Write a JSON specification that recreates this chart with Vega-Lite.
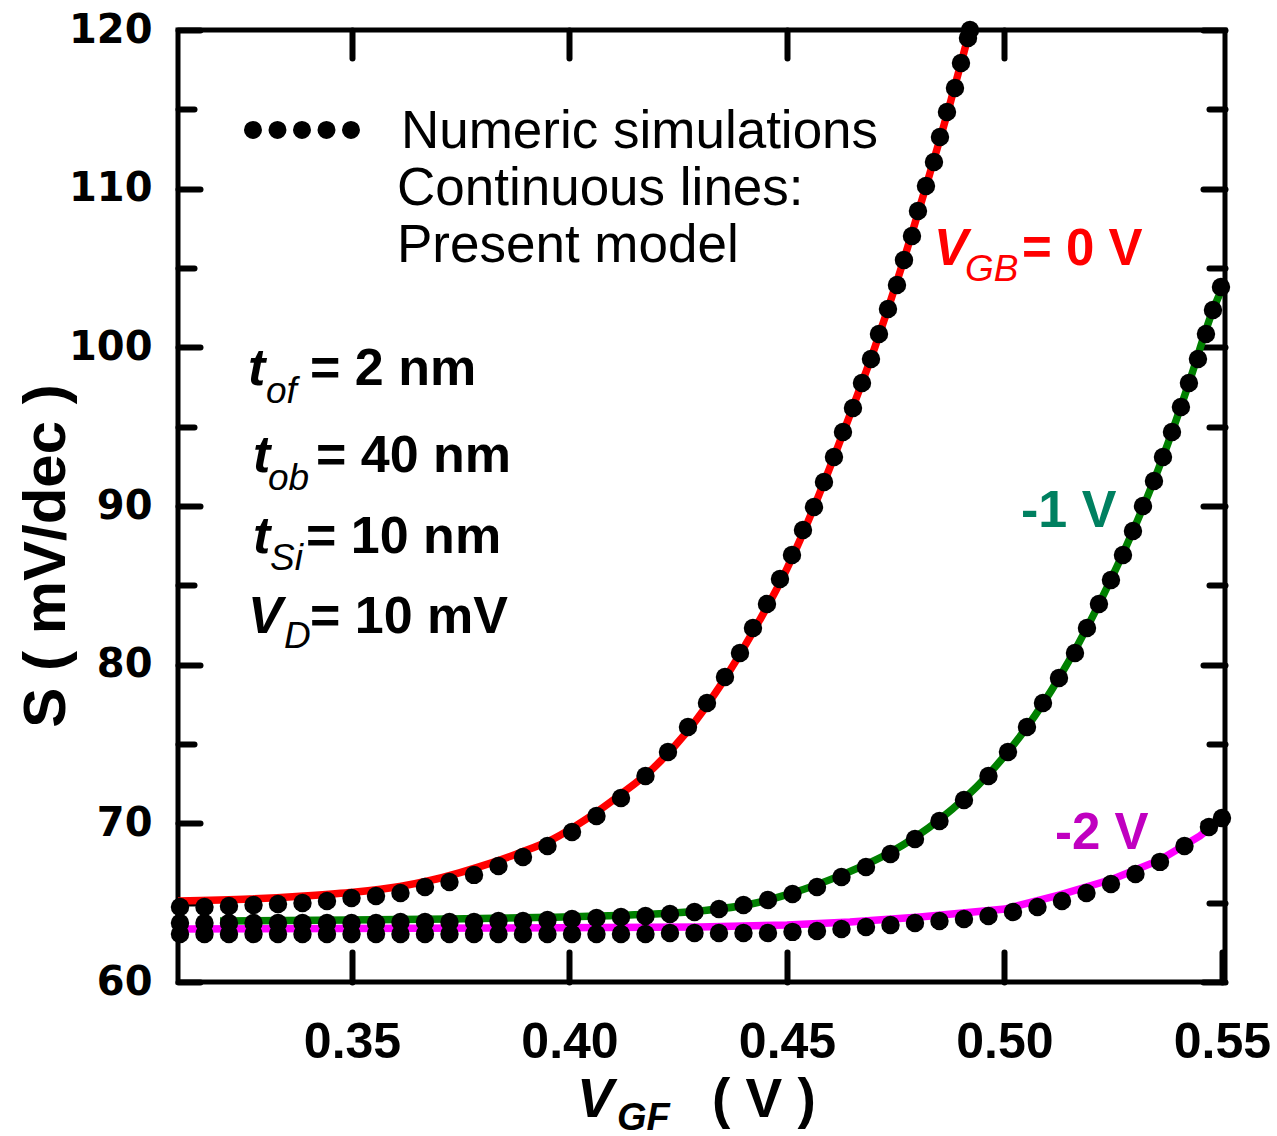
{
  "$schema": "https://vega.github.io/schema/vega-lite/v6.json",
  "width": 1047,
  "height": 952,
  "autosize": {"type": "none"},
  "padding": {"left": 178, "top": 30, "right": 52, "bottom": 154},
  "background": "white",
  "config": {
    "view": {"stroke": "black", "strokeWidth": 5},
    "axis": {"domain": false, "grid": false, "tickColor": "black", "tickWidth": 6, "tickCap": "round", "labelFlush": false, "labelOverlap": false, "labelBound": false, "labelColor": "black"}
  },
  "datasets": {
    "one": [{}],
    "model": [
      {"series": "0 V", "V": 0.31, "S": 65.11},
      {"series": "0 V", "V": 0.32655, "S": 65.23},
      {"series": "0 V", "V": 0.33805, "S": 65.40},
      {"series": "0 V", "V": 0.34954, "S": 65.64},
      {"series": "0 V", "V": 0.36103, "S": 66.02},
      {"series": "0 V", "V": 0.36793, "S": 66.40},
      {"series": "0 V", "V": 0.37483, "S": 66.90},
      {"series": "0 V", "V": 0.38172, "S": 67.48},
      {"series": "0 V", "V": 0.38862, "S": 68.15},
      {"series": "0 V", "V": 0.39621, "S": 69.01},
      {"series": "0 V", "V": 0.40402, "S": 70.30},
      {"series": "0 V", "V": 0.41161, "S": 71.79},
      {"series": "0 V", "V": 0.41920, "S": 73.46},
      {"series": "0 V", "V": 0.42701, "S": 75.76},
      {"series": "0 V", "V": 0.43460, "S": 78.65},
      {"series": "0 V", "V": 0.44218, "S": 82.06},
      {"series": "0 V", "V": 0.45000, "S": 86.06},
      {"series": "0 V", "V": 0.45299, "S": 87.85},
      {"series": "0 V", "V": 0.45874, "S": 91.64},
      {"series": "0 V", "V": 0.46448, "S": 95.74},
      {"series": "0 V", "V": 0.47023, "S": 100.02},
      {"series": "0 V", "V": 0.47598, "S": 104.75},
      {"series": "0 V", "V": 0.48172, "S": 109.92},
      {"series": "0 V", "V": 0.48747, "S": 115.34},
      {"series": "0 V", "V": 0.49207, "S": 120.0},
      {"series": "-1 V", "V": 0.31966, "S": 63.85},
      {"series": "-1 V", "V": 0.34954, "S": 63.91},
      {"series": "-1 V", "V": 0.37253, "S": 63.97},
      {"series": "-1 V", "V": 0.39552, "S": 64.08},
      {"series": "-1 V", "V": 0.41161, "S": 64.20},
      {"series": "-1 V", "V": 0.43000, "S": 64.48},
      {"series": "-1 V", "V": 0.44149, "S": 64.90},
      {"series": "-1 V", "V": 0.45115, "S": 65.60},
      {"series": "-1 V", "V": 0.46264, "S": 66.75},
      {"series": "-1 V", "V": 0.47391, "S": 68.19},
      {"series": "-1 V", "V": 0.48494, "S": 70.21},
      {"series": "-1 V", "V": 0.49621, "S": 73.05},
      {"series": "-1 V", "V": 0.50517, "S": 76.07},
      {"series": "-1 V", "V": 0.51253, "S": 79.16},
      {"series": "-1 V", "V": 0.52172, "S": 83.82},
      {"series": "-1 V", "V": 0.52954, "S": 88.42},
      {"series": "-1 V", "V": 0.53644, "S": 93.09},
      {"series": "-1 V", "V": 0.54241, "S": 97.75},
      {"series": "-1 V", "V": 0.54793, "S": 102.35},
      {"series": "-1 V", "V": 0.5507, "S": 104.12},
      {"series": "-2 V", "V": 0.31, "S": 63.34},
      {"series": "-2 V", "V": 0.38402, "S": 63.40},
      {"series": "-2 V", "V": 0.43000, "S": 63.47},
      {"series": "-2 V", "V": 0.45000, "S": 63.59},
      {"series": "-2 V", "V": 0.46448, "S": 63.78},
      {"series": "-2 V", "V": 0.48057, "S": 64.10},
      {"series": "-2 V", "V": 0.50011, "S": 64.60},
      {"series": "-2 V", "V": 0.51276, "S": 65.49},
      {"series": "-2 V", "V": 0.52494, "S": 66.49},
      {"series": "-2 V", "V": 0.53575, "S": 67.69},
      {"series": "-2 V", "V": 0.54494, "S": 69.20},
      {"series": "-2 V", "V": 0.5507, "S": 70.46}
    ],
    "sim": [
      {"series": "0 V", "V": 0.31046, "S": 64.73},
      {"series": "0 V", "V": 0.31609, "S": 64.73},
      {"series": "0 V", "V": 0.32172, "S": 64.79},
      {"series": "0 V", "V": 0.32736, "S": 64.85},
      {"series": "0 V", "V": 0.33299, "S": 64.92},
      {"series": "0 V", "V": 0.33862, "S": 64.98},
      {"series": "0 V", "V": 0.34425, "S": 65.11},
      {"series": "0 V", "V": 0.34989, "S": 65.30},
      {"series": "0 V", "V": 0.35552, "S": 65.42},
      {"series": "0 V", "V": 0.36115, "S": 65.61},
      {"series": "0 V", "V": 0.36678, "S": 65.99},
      {"series": "0 V", "V": 0.37241, "S": 66.30},
      {"series": "0 V", "V": 0.37805, "S": 66.75},
      {"series": "0 V", "V": 0.38368, "S": 67.31},
      {"series": "0 V", "V": 0.38931, "S": 67.88},
      {"series": "0 V", "V": 0.39494, "S": 68.57},
      {"series": "0 V", "V": 0.40058, "S": 69.45},
      {"series": "0 V", "V": 0.40621, "S": 70.46},
      {"series": "0 V", "V": 0.41184, "S": 71.60},
      {"series": "0 V", "V": 0.41747, "S": 72.98},
      {"series": "0 V", "V": 0.42264, "S": 74.50},
      {"series": "0 V", "V": 0.42724, "S": 76.07},
      {"series": "0 V", "V": 0.43161, "S": 77.58},
      {"series": "0 V", "V": 0.43575, "S": 79.22},
      {"series": "0 V", "V": 0.43920, "S": 80.74},
      {"series": "0 V", "V": 0.44218, "S": 82.31},
      {"series": "0 V", "V": 0.44540, "S": 83.82},
      {"series": "0 V", "V": 0.44839, "S": 85.40},
      {"series": "0 V", "V": 0.45115, "S": 86.91},
      {"series": "0 V", "V": 0.45368, "S": 88.49},
      {"series": "0 V", "V": 0.45621, "S": 89.94},
      {"series": "0 V", "V": 0.45851, "S": 91.51},
      {"series": "0 V", "V": 0.46080, "S": 93.09},
      {"series": "0 V", "V": 0.46287, "S": 94.66},
      {"series": "0 V", "V": 0.46517, "S": 96.18},
      {"series": "0 V", "V": 0.46724, "S": 97.75},
      {"series": "0 V", "V": 0.46931, "S": 99.27},
      {"series": "0 V", "V": 0.47115, "S": 100.84},
      {"series": "0 V", "V": 0.47322, "S": 102.42},
      {"series": "0 V", "V": 0.47529, "S": 103.93},
      {"series": "0 V", "V": 0.47690, "S": 105.50},
      {"series": "0 V", "V": 0.47874, "S": 107.02},
      {"series": "0 V", "V": 0.48011, "S": 108.59},
      {"series": "0 V", "V": 0.48195, "S": 110.17},
      {"series": "0 V", "V": 0.48379, "S": 111.68},
      {"series": "0 V", "V": 0.48517, "S": 113.26},
      {"series": "0 V", "V": 0.48678, "S": 114.83},
      {"series": "0 V", "V": 0.48862, "S": 116.34},
      {"series": "0 V", "V": 0.49000, "S": 117.92},
      {"series": "0 V", "V": 0.49161, "S": 119.50},
      {"series": "0 V", "V": 0.49207, "S": 120.00},
      {"series": "-1 V", "V": 0.31046, "S": 63.72},
      {"series": "-1 V", "V": 0.31609, "S": 63.72},
      {"series": "-1 V", "V": 0.32172, "S": 63.72},
      {"series": "-1 V", "V": 0.32736, "S": 63.72},
      {"series": "-1 V", "V": 0.33299, "S": 63.72},
      {"series": "-1 V", "V": 0.33862, "S": 63.72},
      {"series": "-1 V", "V": 0.34425, "S": 63.72},
      {"series": "-1 V", "V": 0.34989, "S": 63.72},
      {"series": "-1 V", "V": 0.35552, "S": 63.72},
      {"series": "-1 V", "V": 0.36115, "S": 63.78},
      {"series": "-1 V", "V": 0.36678, "S": 63.78},
      {"series": "-1 V", "V": 0.37241, "S": 63.78},
      {"series": "-1 V", "V": 0.37805, "S": 63.78},
      {"series": "-1 V", "V": 0.38368, "S": 63.85},
      {"series": "-1 V", "V": 0.38931, "S": 63.85},
      {"series": "-1 V", "V": 0.39494, "S": 63.91},
      {"series": "-1 V", "V": 0.40058, "S": 63.97},
      {"series": "-1 V", "V": 0.40621, "S": 64.04},
      {"series": "-1 V", "V": 0.41184, "S": 64.10},
      {"series": "-1 V", "V": 0.41747, "S": 64.16},
      {"series": "-1 V", "V": 0.42310, "S": 64.29},
      {"series": "-1 V", "V": 0.42874, "S": 64.41},
      {"series": "-1 V", "V": 0.43437, "S": 64.60},
      {"series": "-1 V", "V": 0.44000, "S": 64.85},
      {"series": "-1 V", "V": 0.44563, "S": 65.17},
      {"series": "-1 V", "V": 0.45127, "S": 65.55},
      {"series": "-1 V", "V": 0.45690, "S": 65.99},
      {"series": "-1 V", "V": 0.46253, "S": 66.62},
      {"series": "-1 V", "V": 0.46816, "S": 67.25},
      {"series": "-1 V", "V": 0.47379, "S": 68.07},
      {"series": "-1 V", "V": 0.47943, "S": 69.01},
      {"series": "-1 V", "V": 0.48506, "S": 70.15},
      {"series": "-1 V", "V": 0.49069, "S": 71.47},
      {"series": "-1 V", "V": 0.49632, "S": 72.98},
      {"series": "-1 V", "V": 0.50080, "S": 74.50},
      {"series": "-1 V", "V": 0.50517, "S": 76.07},
      {"series": "-1 V", "V": 0.50885, "S": 77.58},
      {"series": "-1 V", "V": 0.51253, "S": 79.16},
      {"series": "-1 V", "V": 0.51621, "S": 80.74},
      {"series": "-1 V", "V": 0.51897, "S": 82.31},
      {"series": "-1 V", "V": 0.52172, "S": 83.82},
      {"series": "-1 V", "V": 0.52448, "S": 85.34},
      {"series": "-1 V", "V": 0.52724, "S": 86.91},
      {"series": "-1 V", "V": 0.52954, "S": 88.42},
      {"series": "-1 V", "V": 0.53184, "S": 90.00},
      {"series": "-1 V", "V": 0.53437, "S": 91.58},
      {"series": "-1 V", "V": 0.53644, "S": 93.09},
      {"series": "-1 V", "V": 0.53851, "S": 94.66},
      {"series": "-1 V", "V": 0.54057, "S": 96.24},
      {"series": "-1 V", "V": 0.54241, "S": 97.75},
      {"series": "-1 V", "V": 0.54448, "S": 99.27},
      {"series": "-1 V", "V": 0.54632, "S": 100.84},
      {"series": "-1 V", "V": 0.54793, "S": 102.35},
      {"series": "-1 V", "V": 0.54977, "S": 103.80},
      {"series": "-2 V", "V": 0.31046, "S": 63.03},
      {"series": "-2 V", "V": 0.31609, "S": 63.03},
      {"series": "-2 V", "V": 0.32172, "S": 63.03},
      {"series": "-2 V", "V": 0.32736, "S": 63.03},
      {"series": "-2 V", "V": 0.33299, "S": 63.03},
      {"series": "-2 V", "V": 0.33862, "S": 63.03},
      {"series": "-2 V", "V": 0.34425, "S": 63.03},
      {"series": "-2 V", "V": 0.34989, "S": 63.03},
      {"series": "-2 V", "V": 0.35552, "S": 63.03},
      {"series": "-2 V", "V": 0.36115, "S": 63.03},
      {"series": "-2 V", "V": 0.36678, "S": 63.03},
      {"series": "-2 V", "V": 0.37241, "S": 63.03},
      {"series": "-2 V", "V": 0.37805, "S": 63.03},
      {"series": "-2 V", "V": 0.38368, "S": 63.03},
      {"series": "-2 V", "V": 0.38931, "S": 63.03},
      {"series": "-2 V", "V": 0.39494, "S": 63.03},
      {"series": "-2 V", "V": 0.40058, "S": 63.03},
      {"series": "-2 V", "V": 0.40621, "S": 63.03},
      {"series": "-2 V", "V": 0.41184, "S": 63.03},
      {"series": "-2 V", "V": 0.41747, "S": 63.03},
      {"series": "-2 V", "V": 0.42310, "S": 63.09},
      {"series": "-2 V", "V": 0.42874, "S": 63.09},
      {"series": "-2 V", "V": 0.43437, "S": 63.09},
      {"series": "-2 V", "V": 0.44000, "S": 63.09},
      {"series": "-2 V", "V": 0.44563, "S": 63.09},
      {"series": "-2 V", "V": 0.45127, "S": 63.16},
      {"series": "-2 V", "V": 0.45690, "S": 63.22},
      {"series": "-2 V", "V": 0.46253, "S": 63.34},
      {"series": "-2 V", "V": 0.46816, "S": 63.47},
      {"series": "-2 V", "V": 0.47379, "S": 63.59},
      {"series": "-2 V", "V": 0.47943, "S": 63.72},
      {"series": "-2 V", "V": 0.48506, "S": 63.85},
      {"series": "-2 V", "V": 0.49069, "S": 63.97},
      {"series": "-2 V", "V": 0.49632, "S": 64.16},
      {"series": "-2 V", "V": 0.50196, "S": 64.41},
      {"series": "-2 V", "V": 0.50759, "S": 64.73},
      {"series": "-2 V", "V": 0.51322, "S": 65.11},
      {"series": "-2 V", "V": 0.51885, "S": 65.61},
      {"series": "-2 V", "V": 0.52448, "S": 66.18},
      {"series": "-2 V", "V": 0.53012, "S": 66.81},
      {"series": "-2 V", "V": 0.53575, "S": 67.57},
      {"series": "-2 V", "V": 0.54138, "S": 68.57},
      {"series": "-2 V", "V": 0.54701, "S": 69.77},
      {"series": "-2 V", "V": 0.55, "S": 70.34}
    ]
  },
  "resolve": {"axis": {"x": "independent", "y": "independent"}},
  "layer": [
    {
      "data": {"name": "model"},
      "transform": [{"filter": "datum.series === '0 V'"}],
      "mark": {"type": "line", "color": "#FF0000", "strokeWidth": 7.5, "clip": true, "interpolate": "monotone"},
      "encoding": {
        "x": {"field": "V", "type": "quantitative", "scale": {"domain": [0.31, 0.5507], "nice": false, "zero": false},
              "axis": {"orient": "bottom", "values": [0.35, 0.4, 0.45, 0.5, 0.55], "format": ".2f", "offset": -30, "tickSize": 30, "labelPadding": 75, "labelBaseline": "alphabetic", "labelFont": "Liberation Sans", "labelFontWeight": "bold", "labelFontSize": 50, "title": null}},
        "y": {"field": "S", "type": "quantitative", "scale": {"domain": [60, 120], "nice": false, "zero": false},
              "axis": {"orient": "left", "values": [60, 70, 80, 90, 100, 110, 120], "offset": -22, "tickSize": 22, "labelPadding": 26, "labelFont": "DejaVu Sans", "labelFontWeight": "bold", "labelFontSize": 40, "title": null}}
      }
    },
    {
      "data": {"name": "model"},
      "transform": [{"filter": "datum.series === '-1 V'"}],
      "mark": {"type": "line", "color": "#008000", "strokeWidth": 7.5, "clip": true, "interpolate": "monotone"},
      "encoding": {
        "x": {"field": "V", "type": "quantitative", "scale": {"domain": [0.31, 0.5507], "nice": false, "zero": false},
              "axis": {"orient": "top", "values": [0.35, 0.4, 0.45, 0.5], "offset": -28, "tickSize": 28, "labels": false, "title": null}},
        "y": {"field": "S", "type": "quantitative", "scale": {"domain": [60, 120], "nice": false, "zero": false},
              "axis": {"orient": "left", "values": [65, 75, 85, 95, 105, 115], "offset": -16, "tickSize": 16, "labels": false, "title": null}}
      }
    },
    {
      "data": {"name": "model"},
      "transform": [{"filter": "datum.series === '-2 V'"}],
      "mark": {"type": "line", "color": "#FF00FF", "strokeWidth": 7.5, "clip": true},
      "encoding": {
        "x": {"field": "V", "type": "quantitative", "scale": {"domain": [0.31, 0.5507], "nice": false, "zero": false}, "axis": null},
        "y": {"field": "S", "type": "quantitative", "scale": {"domain": [60, 120], "nice": false, "zero": false},
              "axis": {"orient": "right", "values": [60, 70, 80, 90, 100, 110, 120], "offset": -22, "tickSize": 22, "labels": false, "title": null}}
      }
    },
    {
      "data": {"name": "sim"},
      "mark": {"type": "circle", "color": "black", "opacity": 1, "size": 340},
      "encoding": {
        "x": {"field": "V", "type": "quantitative", "scale": {"domain": [0.31, 0.5507], "nice": false, "zero": false}, "axis": null},
        "y": {"field": "S", "type": "quantitative", "scale": {"domain": [60, 120], "nice": false, "zero": false},
              "axis": {"orient": "right", "values": [65, 75, 85, 95, 105, 115], "offset": -16, "tickSize": 16, "labels": false, "title": null}}
      }
    },
    {
      "data": {"name": "one"},
      "mark": {"type": "rule", "color": "black", "strokeWidth": 18, "strokeCap": "round", "strokeDash": [0, 24.5]},
      "encoding": {
        "x": {"datum": 0.32724, "type": "quantitative", "scale": {"domain": [0.31, 0.5507], "nice": false, "zero": false}, "axis": null},
        "x2": {"datum": 0.34977},
        "y": {"datum": 113.70, "type": "quantitative", "scale": {"domain": [60, 120], "nice": false, "zero": false}, "axis": null}
      }
    },
    {"data": {"name": "one"}, "mark": {"type": "text", "text": "Numeric simulations", "font": "Liberation Sans", "fontSize": 53, "align": "left", "baseline": "alphabetic", "color": "black"},
     "encoding": {"x": {"datum": 0.36126, "type": "quantitative", "scale": {"domain": [0.31, 0.5507], "nice": false, "zero": false}, "axis": null}, "y": {"datum": 112.56, "type": "quantitative", "scale": {"domain": [60, 120], "nice": false, "zero": false}, "axis": null}}},
    {"data": {"name": "one"}, "mark": {"type": "text", "text": "Continuous lines:", "font": "Liberation Sans", "fontSize": 53, "align": "left", "baseline": "alphabetic", "color": "black"},
     "encoding": {"x": {"datum": 0.36034, "type": "quantitative", "scale": {"domain": [0.31, 0.5507], "nice": false, "zero": false}, "axis": null}, "y": {"datum": 108.97, "type": "quantitative", "scale": {"domain": [60, 120], "nice": false, "zero": false}, "axis": null}}},
    {"data": {"name": "one"}, "mark": {"type": "text", "text": "Present model", "font": "Liberation Sans", "fontSize": 53, "align": "left", "baseline": "alphabetic", "color": "black"},
     "encoding": {"x": {"datum": 0.36034, "type": "quantitative", "scale": {"domain": [0.31, 0.5507], "nice": false, "zero": false}, "axis": null}, "y": {"datum": 105.38, "type": "quantitative", "scale": {"domain": [60, 120], "nice": false, "zero": false}, "axis": null}}},

    {"data": {"name": "one"}, "mark": {"type": "text", "text": "t", "font": "Liberation Sans", "fontSize": 52, "fontWeight": "bold", "fontStyle": "italic", "align": "left", "baseline": "alphabetic", "color": "black"},
     "encoding": {"x": {"datum": 0.32609, "type": "quantitative", "scale": {"domain": [0.31, 0.5507], "nice": false, "zero": false}, "axis": null}, "y": {"datum": 97.63, "type": "quantitative", "scale": {"domain": [60, 120], "nice": false, "zero": false}, "axis": null}}},
    {"data": {"name": "one"}, "mark": {"type": "text", "text": "of", "font": "Liberation Sans", "fontSize": 37, "fontStyle": "italic", "align": "left", "baseline": "alphabetic", "color": "black"},
     "encoding": {"x": {"datum": 0.33023, "type": "quantitative", "scale": {"domain": [0.31, 0.5507], "nice": false, "zero": false}, "axis": null}, "y": {"datum": 96.49, "type": "quantitative", "scale": {"domain": [60, 120], "nice": false, "zero": false}, "axis": null}}},
    {"data": {"name": "one"}, "mark": {"type": "text", "text": "= 2 nm", "font": "Liberation Sans", "fontSize": 52, "fontWeight": "bold", "align": "left", "baseline": "alphabetic", "color": "black"},
     "encoding": {"x": {"datum": 0.34034, "type": "quantitative", "scale": {"domain": [0.31, 0.5507], "nice": false, "zero": false}, "axis": null}, "y": {"datum": 97.63, "type": "quantitative", "scale": {"domain": [60, 120], "nice": false, "zero": false}, "axis": null}}},

    {"data": {"name": "one"}, "mark": {"type": "text", "text": "t", "font": "Liberation Sans", "fontSize": 52, "fontWeight": "bold", "fontStyle": "italic", "align": "left", "baseline": "alphabetic", "color": "black"},
     "encoding": {"x": {"datum": 0.32724, "type": "quantitative", "scale": {"domain": [0.31, 0.5507], "nice": false, "zero": false}, "axis": null}, "y": {"datum": 92.14, "type": "quantitative", "scale": {"domain": [60, 120], "nice": false, "zero": false}, "axis": null}}},
    {"data": {"name": "one"}, "mark": {"type": "text", "text": "ob", "font": "Liberation Sans", "fontSize": 37, "fontStyle": "italic", "align": "left", "baseline": "alphabetic", "color": "black"},
     "encoding": {"x": {"datum": 0.33069, "type": "quantitative", "scale": {"domain": [0.31, 0.5507], "nice": false, "zero": false}, "axis": null}, "y": {"datum": 91.01, "type": "quantitative", "scale": {"domain": [60, 120], "nice": false, "zero": false}, "axis": null}}},
    {"data": {"name": "one"}, "mark": {"type": "text", "text": "= 40 nm", "font": "Liberation Sans", "fontSize": 52, "fontWeight": "bold", "align": "left", "baseline": "alphabetic", "color": "black"},
     "encoding": {"x": {"datum": 0.34172, "type": "quantitative", "scale": {"domain": [0.31, 0.5507], "nice": false, "zero": false}, "axis": null}, "y": {"datum": 92.14, "type": "quantitative", "scale": {"domain": [60, 120], "nice": false, "zero": false}, "axis": null}}},

    {"data": {"name": "one"}, "mark": {"type": "text", "text": "t", "font": "Liberation Sans", "fontSize": 52, "fontWeight": "bold", "fontStyle": "italic", "align": "left", "baseline": "alphabetic", "color": "black"},
     "encoding": {"x": {"datum": 0.32724, "type": "quantitative", "scale": {"domain": [0.31, 0.5507], "nice": false, "zero": false}, "axis": null}, "y": {"datum": 87.04, "type": "quantitative", "scale": {"domain": [60, 120], "nice": false, "zero": false}, "axis": null}}},
    {"data": {"name": "one"}, "mark": {"type": "text", "text": "Si", "font": "Liberation Sans", "fontSize": 37, "fontStyle": "italic", "align": "left", "baseline": "alphabetic", "color": "black"},
     "encoding": {"x": {"datum": 0.33115, "type": "quantitative", "scale": {"domain": [0.31, 0.5507], "nice": false, "zero": false}, "axis": null}, "y": {"datum": 85.97, "type": "quantitative", "scale": {"domain": [60, 120], "nice": false, "zero": false}, "axis": null}}},
    {"data": {"name": "one"}, "mark": {"type": "text", "text": "= 10 nm", "font": "Liberation Sans", "fontSize": 52, "fontWeight": "bold", "align": "left", "baseline": "alphabetic", "color": "black"},
     "encoding": {"x": {"datum": 0.33943, "type": "quantitative", "scale": {"domain": [0.31, 0.5507], "nice": false, "zero": false}, "axis": null}, "y": {"datum": 87.04, "type": "quantitative", "scale": {"domain": [60, 120], "nice": false, "zero": false}, "axis": null}}},

    {"data": {"name": "one"}, "mark": {"type": "text", "text": "V", "font": "Liberation Sans", "fontSize": 52, "fontWeight": "bold", "fontStyle": "italic", "align": "left", "baseline": "alphabetic", "color": "black"},
     "encoding": {"x": {"datum": 0.32609, "type": "quantitative", "scale": {"domain": [0.31, 0.5507], "nice": false, "zero": false}, "axis": null}, "y": {"datum": 82.00, "type": "quantitative", "scale": {"domain": [60, 120], "nice": false, "zero": false}, "axis": null}}},
    {"data": {"name": "one"}, "mark": {"type": "text", "text": "D", "font": "Liberation Sans", "fontSize": 37, "fontStyle": "italic", "align": "left", "baseline": "alphabetic", "color": "black"},
     "encoding": {"x": {"datum": 0.33437, "type": "quantitative", "scale": {"domain": [0.31, 0.5507], "nice": false, "zero": false}, "axis": null}, "y": {"datum": 81.05, "type": "quantitative", "scale": {"domain": [60, 120], "nice": false, "zero": false}, "axis": null}}},
    {"data": {"name": "one"}, "mark": {"type": "text", "text": "= 10 mV", "font": "Liberation Sans", "fontSize": 52, "fontWeight": "bold", "align": "left", "baseline": "alphabetic", "color": "black"},
     "encoding": {"x": {"datum": 0.34034, "type": "quantitative", "scale": {"domain": [0.31, 0.5507], "nice": false, "zero": false}, "axis": null}, "y": {"datum": 82.00, "type": "quantitative", "scale": {"domain": [60, 120], "nice": false, "zero": false}, "axis": null}}},

    {"data": {"name": "one"}, "mark": {"type": "text", "text": "V", "font": "Liberation Sans", "fontSize": 51, "fontWeight": "bold", "fontStyle": "italic", "align": "left", "baseline": "alphabetic", "color": "#FF0000"},
     "encoding": {"x": {"datum": 0.48379, "type": "quantitative", "scale": {"domain": [0.31, 0.5507], "nice": false, "zero": false}, "axis": null}, "y": {"datum": 105.19, "type": "quantitative", "scale": {"domain": [60, 120], "nice": false, "zero": false}, "axis": null}}},
    {"data": {"name": "one"}, "mark": {"type": "text", "text": "GB", "font": "Liberation Sans", "fontSize": 37, "fontStyle": "italic", "align": "left", "baseline": "alphabetic", "color": "#FF0000"},
     "encoding": {"x": {"datum": 0.49092, "type": "quantitative", "scale": {"domain": [0.31, 0.5507], "nice": false, "zero": false}, "axis": null}, "y": {"datum": 104.18, "type": "quantitative", "scale": {"domain": [60, 120], "nice": false, "zero": false}, "axis": null}}},
    {"data": {"name": "one"}, "mark": {"type": "text", "text": "= 0 V", "font": "Liberation Sans", "fontSize": 51, "fontWeight": "bold", "align": "left", "baseline": "alphabetic", "color": "#FF0000"},
     "encoding": {"x": {"datum": 0.50402, "type": "quantitative", "scale": {"domain": [0.31, 0.5507], "nice": false, "zero": false}, "axis": null}, "y": {"datum": 105.19, "type": "quantitative", "scale": {"domain": [60, 120], "nice": false, "zero": false}, "axis": null}}},
    {"data": {"name": "one"}, "mark": {"type": "text", "text": "-1 V", "font": "Liberation Sans", "fontSize": 52, "fontWeight": "bold", "align": "left", "baseline": "alphabetic", "color": "#008060"},
     "encoding": {"x": {"datum": 0.50379, "type": "quantitative", "scale": {"domain": [0.31, 0.5507], "nice": false, "zero": false}, "axis": null}, "y": {"datum": 88.68, "type": "quantitative", "scale": {"domain": [60, 120], "nice": false, "zero": false}, "axis": null}}},
    {"data": {"name": "one"}, "mark": {"type": "text", "text": "-2 V", "font": "Liberation Sans", "fontSize": 51, "fontWeight": "bold", "align": "left", "baseline": "alphabetic", "color": "#C000C0"},
     "encoding": {"x": {"datum": 0.51161, "type": "quantitative", "scale": {"domain": [0.31, 0.5507], "nice": false, "zero": false}, "axis": null}, "y": {"datum": 68.38, "type": "quantitative", "scale": {"domain": [60, 120], "nice": false, "zero": false}, "axis": null}}},

    {"data": {"name": "one"}, "mark": {"type": "text", "text": "V", "font": "Liberation Sans", "fontSize": 55, "fontWeight": "bold", "fontStyle": "italic", "align": "left", "baseline": "alphabetic", "color": "black"},
     "encoding": {"x": {"datum": 0.40172, "type": "quantitative", "scale": {"domain": [0.31, 0.5507], "nice": false, "zero": false}, "axis": null}, "y": {"datum": 51.49, "type": "quantitative", "scale": {"domain": [60, 120], "nice": false, "zero": false}, "axis": null}}},
    {"data": {"name": "one"}, "mark": {"type": "text", "text": "GF", "font": "Liberation Sans", "fontSize": 38, "fontWeight": "bold", "fontStyle": "italic", "align": "left", "baseline": "alphabetic", "color": "black"},
     "encoding": {"x": {"datum": 0.41092, "type": "quantitative", "scale": {"domain": [0.31, 0.5507], "nice": false, "zero": false}, "axis": null}, "y": {"datum": 50.67, "type": "quantitative", "scale": {"domain": [60, 120], "nice": false, "zero": false}, "axis": null}}},
    {"data": {"name": "one"}, "mark": {"type": "text", "text": "( V )", "font": "Liberation Sans", "fontSize": 55, "fontWeight": "bold", "align": "left", "baseline": "alphabetic", "color": "black"},
     "encoding": {"x": {"datum": 0.43276, "type": "quantitative", "scale": {"domain": [0.31, 0.5507], "nice": false, "zero": false}, "axis": null}, "y": {"datum": 51.49, "type": "quantitative", "scale": {"domain": [60, 120], "nice": false, "zero": false}, "axis": null}}},
    {"data": {"name": "one"}, "mark": {"type": "text", "text": "S ( mV/dec )", "font": "Liberation Sans", "fontSize": 60, "fontWeight": "bold", "angle": 270, "align": "center", "baseline": "alphabetic", "color": "black"},
     "encoding": {"x": {"datum": 0.28402, "type": "quantitative", "scale": {"domain": [0.31, 0.5507], "nice": false, "zero": false}, "axis": null}, "y": {"datum": 86.85, "type": "quantitative", "scale": {"domain": [60, 120], "nice": false, "zero": false}, "axis": null}}}
  ]
}
